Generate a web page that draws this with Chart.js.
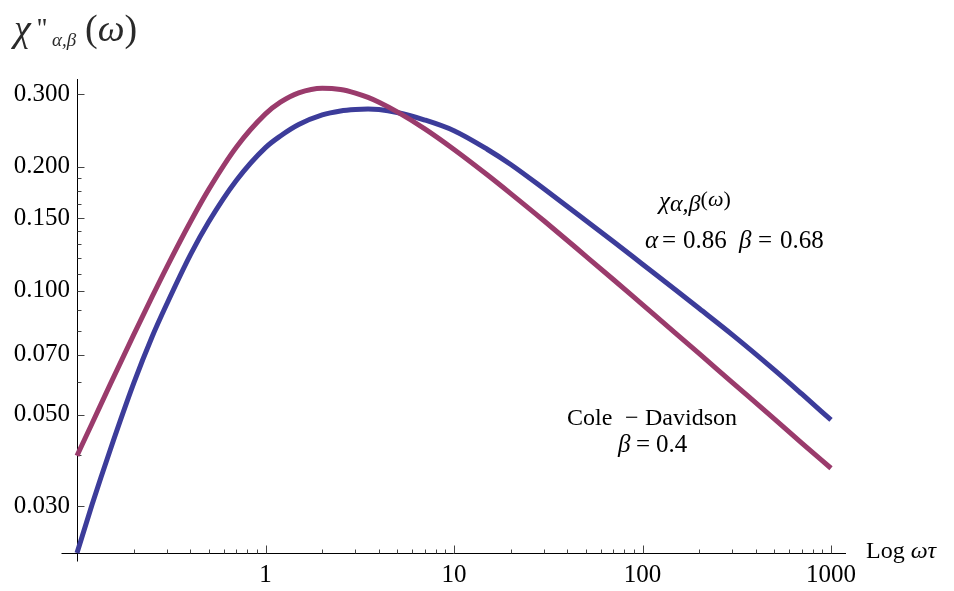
<!DOCTYPE html>
<html>
<head>
<meta charset="utf-8">
<script src="https://cdn.jsdelivr.net/npm/chart.js@4.4.1/dist/chart.umd.min.js"></script>
<style>
  html, body { margin: 0; padding: 0; background: #fff; }
  #wrap { width: 954px; height: 591px; position: relative; }
</style>
</head>
<body>
<div id="wrap"><canvas id="chart-chi"></canvas></div>
<script>
// omega*tau sample points (log axis)
var omegaTau = [0.1, 0.12, 0.15, 0.2, 0.25, 0.3, 0.4, 0.5, 0.7, 1, 1.2, 1.5, 2, 2.5, 3, 3.5, 4, 5, 7, 10,
                15, 20, 30, 50, 70, 100, 150, 200, 300, 500, 700, 1000];

// chi''_{alpha,beta}, alpha = 0.86, beta = 0.68 (blue)
var chiAlphaBeta = [0.0231, 0.0302, 0.0411, 0.0597, 0.0773, 0.0931, 0.1225, 0.1472, 0.1854,
                    0.2228, 0.2378, 0.2535, 0.2675, 0.2735, 0.2757, 0.2764, 0.2757, 0.2712,
                    0.2600, 0.2449, 0.2208, 0.2028, 0.1770, 0.1483, 0.1318, 0.1161, 0.1005,
                    0.0906, 0.0782, 0.0643, 0.0562, 0.0486];

// Cole - Davidson, beta = 0.4 (purple)
var coleDavidson = [0.0398, 0.0476, 0.0593, 0.0783, 0.0967, 0.1144, 0.1472, 0.1764, 0.2233,
                    0.2690, 0.2872, 0.3026, 0.3106, 0.3084, 0.3023, 0.2950, 0.2871, 0.2720,
                    0.2474, 0.2205, 0.1914, 0.1723, 0.1480, 0.1215, 0.1066, 0.0926, 0.0789,
                    0.0704, 0.0599, 0.0489, 0.0427, 0.0371];

var xTicks = [1, 10, 100, 1000];
var xMinorTicks = [0.2, 0.3, 0.4, 0.5, 0.6, 0.7, 0.8, 0.9, 2, 3, 4, 5, 6, 7, 8, 9,
                   20, 30, 40, 50, 60, 70, 80, 90, 200, 300, 400, 500, 600, 700, 800, 900];
var yTicks = [0.03, 0.05, 0.07, 0.1, 0.15, 0.2, 0.3];
var yMinorTicks = [0.04, 0.06, 0.08, 0.09, 0.11, 0.12, 0.13, 0.14, 0.1625, 0.175, 0.1875];

var X_MIN = 0.1, X_MAX = 1201;
var Y_MIN = 0.0231, Y_MAX = 0.327;

var SERIF = '"Liberation Serif", "DejaVu Serif", serif';

function pts(ys) {
  return omegaTau.map(function(x, i) { return { x: x, y: ys[i] }; });
}

// draw a sequence of text pieces with their own fonts
function drawRuns(ctx, x, y, runs) {
  runs.forEach(function(r) {
    ctx.font = r.font;
    var px = (r.x !== undefined) ? r.x : x;
    ctx.fillText(r.t, px, y + (r.dy || 0));
    x = px + ctx.measureText(r.t).width;
  });
}

var mmaAxes = {
  id: 'mmaAxes',
  beforeDatasetsDraw: function(chart) {
    var ctx = chart.ctx, sx = chart.scales.x, sy = chart.scales.y;
    var ox = Math.round(sx.getPixelForValue(X_MIN)) + 0.5;
    var oy = Math.round(sy.getPixelForValue(Y_MIN)) + 0.5;
    ctx.save();
    ctx.lineWidth = 1;
    ctx.strokeStyle = '#000';
    ctx.beginPath();
    ctx.moveTo(ox - 16, oy); ctx.lineTo(sx.right, oy);
    ctx.moveTo(ox, sy.top); ctx.lineTo(ox, oy + 8);
    ctx.stroke();

    ctx.strokeStyle = '#444';
    ctx.beginPath();
    xTicks.forEach(function(v) {
      var p = Math.round(sx.getPixelForValue(v)) + 0.5;
      ctx.moveTo(p, oy); ctx.lineTo(p, oy - 8);
    });
    xMinorTicks.forEach(function(v) {
      var p = Math.round(sx.getPixelForValue(v)) + 0.5;
      ctx.moveTo(p, oy); ctx.lineTo(p, oy - 4);
    });
    yTicks.forEach(function(v) {
      var p = Math.round(sy.getPixelForValue(v)) + 0.5;
      ctx.moveTo(ox, p); ctx.lineTo(ox + 7, p);
    });
    yMinorTicks.forEach(function(v) {
      var p = Math.round(sy.getPixelForValue(v)) + 0.5;
      ctx.moveTo(ox, p); ctx.lineTo(ox + 4, p);
    });
    ctx.stroke();
    ctx.restore();
  },
  afterDraw: function(chart) {
    var ctx = chart.ctx;
    ctx.save();
    ctx.fillStyle = '#2a2a2a';
    ctx.textBaseline = 'alphabetic';
    ctx.textAlign = 'left';

    // axis title (top left)
    drawRuns(ctx, 14, 41, [
      { t: '\u03C7', font: 'italic 38px ' + SERIF },
      { t: "''", font: '28px ' + SERIF, dy: -4, x: 37 },
      { t: '\u03B1,\u03B2', font: 'italic 19px ' + SERIF, dy: 5, x: 52 },
      { t: '(', font: '38px ' + SERIF, x: 85 },
      { t: '\u03C9', font: 'italic 38px ' + SERIF },
      { t: ')', font: '38px ' + SERIF }
    ]);

    ctx.fillStyle = '#000';
    // x axis label
    ctx.textBaseline = 'middle';
    drawRuns(ctx, 866, 552, [
      { t: 'Log ', font: '24px ' + SERIF },
      { t: '\u03C9\u03C4', font: 'italic 24px ' + SERIF }
    ]);
    ctx.textBaseline = 'alphabetic';

    // annotation: chi_{alpha,beta}(omega)
    drawRuns(ctx, 659, 209, [
      { t: '\u03C7', font: 'italic 25px ' + SERIF },
      { t: '\u03B1,\u03B2', font: 'italic 24px ' + SERIF, dy: 2 },
      { t: '(', font: '22px ' + SERIF, dy: -3 },
      { t: '\u03C9', font: 'italic 22px ' + SERIF, dy: -3 },
      { t: ')', font: '22px ' + SERIF, dy: -3 }
    ]);
    drawRuns(ctx, 645, 248, [
      { t: '\u03B1', font: 'italic 25px ' + SERIF, x: 645 },
      { t: '=', font: '25px ' + SERIF, x: 662 },
      { t: '0.86', font: '25px ' + SERIF, x: 683 },
      { t: '\u03B2', font: 'italic 25px ' + SERIF, x: 739 },
      { t: '=', font: '25px ' + SERIF, x: 758 },
      { t: '0.68', font: '25px ' + SERIF, x: 780 }
    ]);

    // annotation: Cole - Davidson
    drawRuns(ctx, 567, 425, [
      { t: 'Cole', font: '24px ' + SERIF, x: 567 },
      { t: '\u2212', font: '24px ' + SERIF, x: 625 },
      { t: 'Davidson', font: '24px ' + SERIF, x: 645 }
    ]);
    drawRuns(ctx, 618, 452, [
      { t: '\u03B2', font: 'italic 25px ' + SERIF, x: 618 },
      { t: '=', font: '25px ' + SERIF, x: 636 },
      { t: '0.4', font: '25px ' + SERIF, x: 656 }
    ]);
    ctx.restore();
  }
};

var ctxChi = document.getElementById('chart-chi').getContext('2d');
new Chart(ctxChi, {
  type: 'line',
  data: {
    datasets: [{
      label: 'Cole - Davidson, \u03B2 = 0.4',
      data: pts(coleDavidson),
      borderColor: '#9a3b6c',
      borderWidth: 5,
      pointRadius: 0,
      cubicInterpolationMode: 'monotone',
      clip: false,
      order: 0
    }, {
      label: '\u03C7\u03B1,\u03B2(\u03C9)',
      data: pts(chiAlphaBeta),
      borderColor: '#3c3c9a',
      borderWidth: 5,
      pointRadius: 0,
      cubicInterpolationMode: 'monotone',
      clip: false,
      order: 1
    }]
  },
  options: {
    responsive: true,
    maintainAspectRatio: false,
    animation: false,
    layout: { padding: { top: 79, right: 108, left: 0, bottom: 0 } },
    plugins: { legend: { display: false }, tooltip: { enabled: false } },
    scales: {
      x: {
        type: 'logarithmic',
        min: X_MIN,
        max: X_MAX,
        grid: { display: false, drawTicks: false },
        border: { display: false },
        afterBuildTicks: function(s) { s.ticks = xTicks.map(function(v) { return { value: v }; }); },
        afterFit: function(s) { s.height = 38; },
        ticks: {
          autoSkip: false,
          maxRotation: 0,
          padding: 7,
          color: '#000',
          font: { family: SERIF, size: 25 },
          callback: function(v) { return String(v); }
        }
      },
      y: {
        type: 'logarithmic',
        min: Y_MIN,
        max: Y_MAX,
        grid: { display: false, drawTicks: false },
        border: { display: false },
        afterBuildTicks: function(s) { s.ticks = yTicks.map(function(v) { return { value: v }; }); },
        afterFit: function(s) { s.width = 77; },
        ticks: {
          autoSkip: false,
          padding: 7,
          color: '#000',
          font: { family: SERIF, size: 25 },
          callback: function(v) { return Number(v).toFixed(3); }
        }
      }
    }
  },
  plugins: [mmaAxes]
});
</script>
</body>
</html>
